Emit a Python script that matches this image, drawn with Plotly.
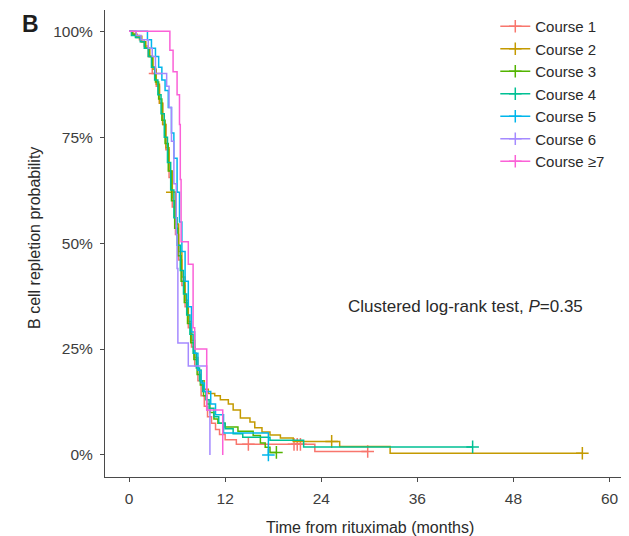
import plotly.graph_objects as go

# ---------------- data ----------------
course_names = ["Course 1", "Course 2", "Course 3", "Course 4", "Course 5", "Course 6", "Course \u22657"]
colors = ["#F8766D", "#C49A00", "#53B400", "#00C094", "#00B6EB", "#A58AFF", "#FB61D7"]

c1_t = [0, 0.8, 1.3, 1.9, 2.4, 2.9, 3.4, 3.8, 4.2, 4.6, 5.0, 5.4, 5.8, 6.2, 6.6, 7.0, 7.4, 7.8, 8.2, 8.6, 9.0, 9.4, 9.8, 10.3, 10.8, 11.3, 12.0, 13.4, 23.2, 29.8]
c1_s = [100, 99, 98, 96.5, 94, 90, 87, 83, 78, 72, 65.5, 58.5, 52, 46, 40, 35, 30, 25.5, 21, 17.5, 14, 11.5, 9, 7.5, 6, 4.8, 3.6, 2.5, 0.8, 0.8]
c1_ct = [3.25, 14.9, 20.6, 21.0, 21.4, 29.8]
c1_cs = [90, 2.5, 2.5, 2.5, 2.5, 0.8]

c2_t = [0, 0.5, 1.0, 1.6, 2.1, 2.6, 3.0, 3.4, 3.8, 4.2, 4.6, 5.0, 5.4, 5.8, 6.2, 6.6, 7.0, 7.4, 7.8, 8.2, 8.6, 9.0, 9.4, 9.9, 10.7, 11.4, 12.4, 13.0, 13.9, 15.1, 15.7, 16.6, 17.6, 18.9, 20.5, 26.3, 32.6, 56.6]
c2_s = [100, 99.3, 98.8, 97.5, 96, 94, 91, 87.5, 83, 78, 72.5, 67, 62, 54.5, 48, 42, 36.5, 31.5, 27, 23, 20, 17.5, 15.5, 14.5, 14, 13, 12, 10.6, 8.7, 7.8, 6.4, 5.4, 4.7, 4.0, 3.2, 2.0, 0.4, 0.4]
c2_ct = [5.4, 25.3, 56.6]
c2_cs = [62, 3.2, 0.4]

c3_t = [0, 0.4, 0.9, 1.5, 2.0, 2.5, 2.9, 3.3, 3.7, 4.1, 4.5, 4.9, 5.3, 5.7, 6.1, 6.5, 6.9, 7.3, 7.7, 8.1, 8.5, 8.9, 9.3, 9.7, 10.1, 10.6, 11.1, 12.0, 13.6, 15.5, 16.4, 17.0, 17.6, 18.4]
c3_s = [100, 99.3, 98.5, 97.5, 96, 94, 91.5, 88, 84, 79, 73.5, 67, 60, 53.5, 47, 41, 36, 31, 26.5, 22.5, 19, 16.5, 14, 12, 10, 8.5, 7.5, 6.6, 5.6, 4.6, 2.8, 1.8, 0.6, 0.6]
c3_ct = [18.4]
c3_cs = [0.6]

c4_t = [0, 0.3, 0.8, 1.4, 1.9, 2.4, 2.8, 3.2, 3.6, 4.0, 4.4, 4.8, 5.2, 5.6, 6.0, 6.4, 6.8, 7.2, 7.6, 8.0, 8.4, 8.8, 9.2, 9.6, 10.0, 10.6, 11.2, 12.0, 13.0, 14.2, 17.6, 21.8, 42.9]
c4_s = [100, 99, 98.5, 97.5, 96, 94, 91.5, 88.5, 85, 80.5, 75, 69, 62.5, 56, 49.5, 43.5, 38, 33, 28.5, 24, 20.5, 17.5, 15, 13, 11, 9, 7.5, 6.2, 5, 4.2, 3.5, 1.9, 1.9]
c4_ct = [42.9]
c4_cs = [1.9]

c5_t = [0, 2.3, 2.8, 3.3, 3.7, 4.1, 4.5, 4.9, 5.3, 5.6, 6.0, 6.3, 6.6, 7.0, 7.4, 7.8, 8.2, 8.6, 9.0, 9.4, 10.2, 10.8, 11.8, 17.4]
c5_s = [100, 98, 96, 94, 91.5, 88.5, 86, 82, 76, 70, 62, 55, 48, 41, 35, 29, 24, 20, 17, 15, 12, 9.5, 5.2, 0]
c5_ct = [17.4]
c5_cs = [0]

c6_t = [0, 0.9, 1.5, 2.4, 2.9, 3.3, 4.7, 5.0, 5.3, 5.6, 5.9, 6.0, 6.1, 7.4, 9.7, 10.1]
c6_s = [100, 99, 98, 96, 94, 90, 87, 82, 74, 64, 52, 44, 26.4, 21, 10.6, 0]
c6_ct = []
c6_cs = []

c7_t = [0, 5.1, 5.5, 6.0, 6.3, 6.4, 6.5, 7.4, 8.0, 8.2, 9.7, 11.7]
c7_s = [100, 95.5, 90.4, 85, 78, 65, 50.3, 45, 30, 25, 10.6, 0]
c7_ct = []
c7_cs = []

curves = [
    (c1_t, c1_s, c1_ct, c1_cs),
    (c2_t, c2_s, c2_ct, c2_cs),
    (c3_t, c3_s, c3_ct, c3_cs),
    (c4_t, c4_s, c4_ct, c4_cs),
    (c5_t, c5_s, c5_ct, c5_cs),
    (c6_t, c6_s, c6_ct, c6_cs),
    (c7_t, c7_s, c7_ct, c7_cs),
]

x_ticks = [0, 12, 24, 36, 48, 60]
y_ticks = [0, 25, 50, 75, 100]
y_ticklabels = ["0%", "25%", "50%", "75%", "100%"]

FONT = "Liberation Sans, Arial, sans-serif"
TXT = "#2a2a2a"
TICK = "#3d3d3d"
AX = "#4a4a4a"

fig = go.Figure()

for name, col, (t, s, ct, cs) in zip(course_names, colors, curves):
    fig.add_trace(go.Scatter(x=t, y=s, mode="lines", line=dict(color=col, width=1.5, shape="hv"),
                             showlegend=False, hoverinfo="skip"))
    if ct:
        fig.add_trace(go.Scatter(x=ct, y=cs, mode="markers",
                                 marker=dict(symbol="cross-thin", size=9, line=dict(color=col, width=1.5)),
                                 showlegend=False, hoverinfo="skip"))

# legend entries (line with a "+" mark)
for name, col in zip(course_names, colors):
    fig.add_trace(go.Scatter(x=[None], y=[None], mode="lines+markers", name=name,
                             line=dict(color=col, width=1.5),
                             marker=dict(symbol="cross-thin", size=9, line=dict(color=col, width=1.5))))

# the page body adds an 8px offset, so the figure is drawn 8px smaller
fig.update_layout(
    width=621, height=528,
    margin=dict(l=97, r=5, t=2, b=59),
    paper_bgcolor="white", plot_bgcolor="white",
    font=dict(family=FONT, size=15, color=TXT),
    showlegend=True,
    legend=dict(x=0.752, y=1.0, xanchor="left", yanchor="top", bgcolor="rgba(0,0,0,0)",
                font=dict(size=15, color=TXT), itemwidth=30, tracegroupgap=0),
    xaxis=dict(range=[-3.0, 61.8], tickvals=x_ticks, showgrid=False, zeroline=False,
               showline=True, linecolor=AX, linewidth=1, ticks="outside", ticklen=4,
               tickcolor=AX, tickfont=dict(size=15.5, color=TICK), ticklabelstandoff=3),
    yaxis=dict(range=[-5.2, 105], tickvals=y_ticks, ticktext=y_ticklabels, showgrid=False, zeroline=False,
               showline=True, linecolor=AX, linewidth=1, ticks="outside", ticklen=4,
               tickcolor=AX, tickfont=dict(size=15.5, color=TICK), ticklabelstandoff=4),
    annotations=[
        dict(text="Time from rituximab (months)", xref="paper", yref="paper", x=0.5106, y=-0.109,
             xanchor="center", yanchor="middle", showarrow=False, font=dict(size=16, color=TXT)),
        dict(text="B cell repletion probability", xref="paper", yref="paper", x=-0.1349, y=0.5118,
             xanchor="center", yanchor="middle", textangle=-90, showarrow=False,
             font=dict(size=16, color=TXT)),
        dict(text="<b>B</b>", xref="paper", yref="paper", x=-0.164, y=0.971, xanchor="left", yanchor="middle",
             showarrow=False, font=dict(size=23, color="#1e1e1e")),
        dict(text="Clustered log-rank test, <i>P</i>=0.35", xref="x", yref="y", x=42.07, y=35.1,
             xanchor="center", yanchor="middle", showarrow=False, font=dict(size=17, color=TXT)),
    ],
)

fig.write_html("out.html")
